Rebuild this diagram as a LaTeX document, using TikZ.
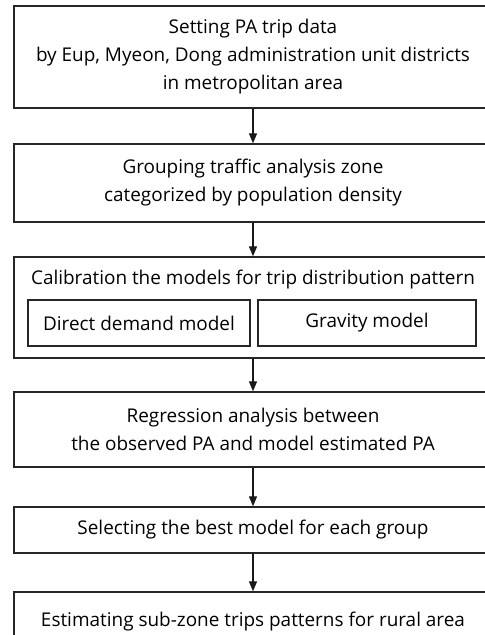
\documentclass[tikz,border=0pt]{standalone}
\usepackage{fontspec}
\setmainfont{Open Sans}
\usetikzlibrary{%
  arrows.meta%
  ,positioning%
}
\tikzset{
  stepbox/.style={draw=black!85,line width=1pt,rectangle,inner sep=0pt,
    minimum width=358.5pt,align=center,font=\fontsize{14.2}{21}\selectfont},
  subbox/.style={draw=black!85,line width=1pt,rectangle,inner sep=0pt,
    minimum height=34.5pt,font=\fontsize{14.2}{21}\selectfont},
  flow/.style={-{Triangle[length=7.5pt,width=6pt]},line width=0.9pt,black!90}
}
\begin{document}
\begin{tikzpicture}[x=0.75pt,y=-0.75pt]
      \useasboundingbox (0,0) rectangle (485,635);
      \clip (0,0) rectangle (485,635);
      \node[stepbox,minimum height=76.5pt] (setting) at (253,57)
        {Setting PA trip data\\by Eup, Myeon, Dong administration unit districts\\in metropolitan area};
      \node[stepbox,minimum height=58.5pt] (grouping) at (253,183)
        {Grouping traffic analysis zone\\categorized by population density};
      \node[stepbox,minimum height=75.75pt] (calib) at (253,307.5) {};
      \node[font=\fontsize{14.2}{21}\selectfont] (calibtitle) at (253,280)
        {Calibration the models for trip distribution pattern};
      \node[subbox,minimum width=166.5pt] (direct) at (139,323) {Direct demand model};
      \node[subbox,minimum width=163.5pt] (gravity) at (367,323) {Gravity model};
      \node[stepbox,minimum height=56.25pt] (regress) at (253,429.5)
        {Regression analysis between\\the observed PA and model estimated PA};
      \node[stepbox,minimum height=34.5pt] (select) at (253,530)
        {Selecting the best model for each group};
      \node[stepbox,minimum height=45pt] (estim) at (253,622)
        {Estimating sub-zone trips patterns for rural area};
      %% arrows between steps
      \draw[flow] (setting.south) -- (grouping.north);
      \draw[flow] (grouping.south) -- (calib.north);
      \draw[flow] (calib.south) -- (regress.north);
      \draw[flow] (regress.south) -- (select.north);
      \draw[flow] (select.south) -- (estim.north);
    \end{tikzpicture}
\end{document}
